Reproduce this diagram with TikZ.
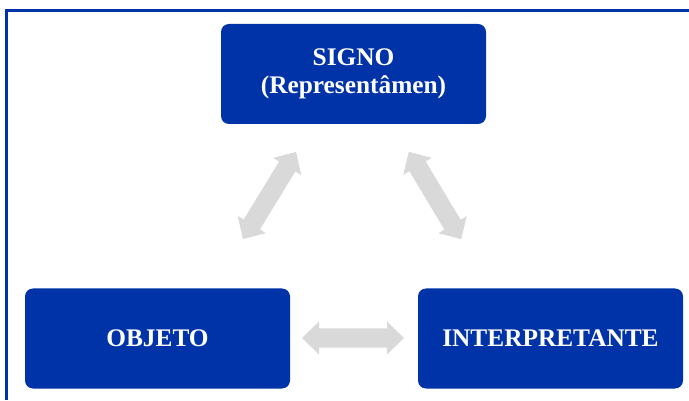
\documentclass[tikz,border=0pt]{standalone}
\usepackage{fontspec}
\setmainfont{Liberation Serif}
\definecolor{boxblue}{RGB}{0,51,168}
\definecolor{arrowgray}{RGB}{217,217,217}
\begin{document}
\begin{tikzpicture}[x=0.75pt,y=0.75pt,
  bluebox/.style={fill=boxblue, rounded corners=6pt, minimum width=198.75pt, minimum height=75pt,
    text=white, font=\fontsize{19}{21}\selectfont\bfseries, align=center, inner sep=0pt},
  blockarrow/.style={fill=arrowgray, draw=none}]
\useasboundingbox (0,0) rectangle (689,400);
% frame (top and left edges)
\draw[boxblue, line width=1.9pt] (6.5,0) -- (6.5,389.5) -- (689,389.5);
% boxes
\node[bluebox] (signo) at (353.5,326) {SIGNO\\(Representâmen)};
\node[bluebox] (objeto) at (157.5,61.5) {OBJETO};
\node[bluebox] (interp) at (550.5,61.5) {INTERPRETANTE};
% block arrows
\newcommand{\myblockarrow}[2]{%
  \begin{scope}[shift={#1}, rotate=#2]
    \fill[blockarrow] (-51,0) -- (-34,16.5) -- (-34,9.5) -- (34,9.5) -- (34,16.5) -- (51,0)
      -- (34,-16.5) -- (34,-9.5) -- (-34,-9.5) -- (-34,-16.5) -- cycle;
  \end{scope}}
\myblockarrow{(269.5,204.5)}{58.6}
\myblockarrow{(435,204.5)}{-59}
\myblockarrow{(353,62)}{0}
\end{tikzpicture}
\end{document}
